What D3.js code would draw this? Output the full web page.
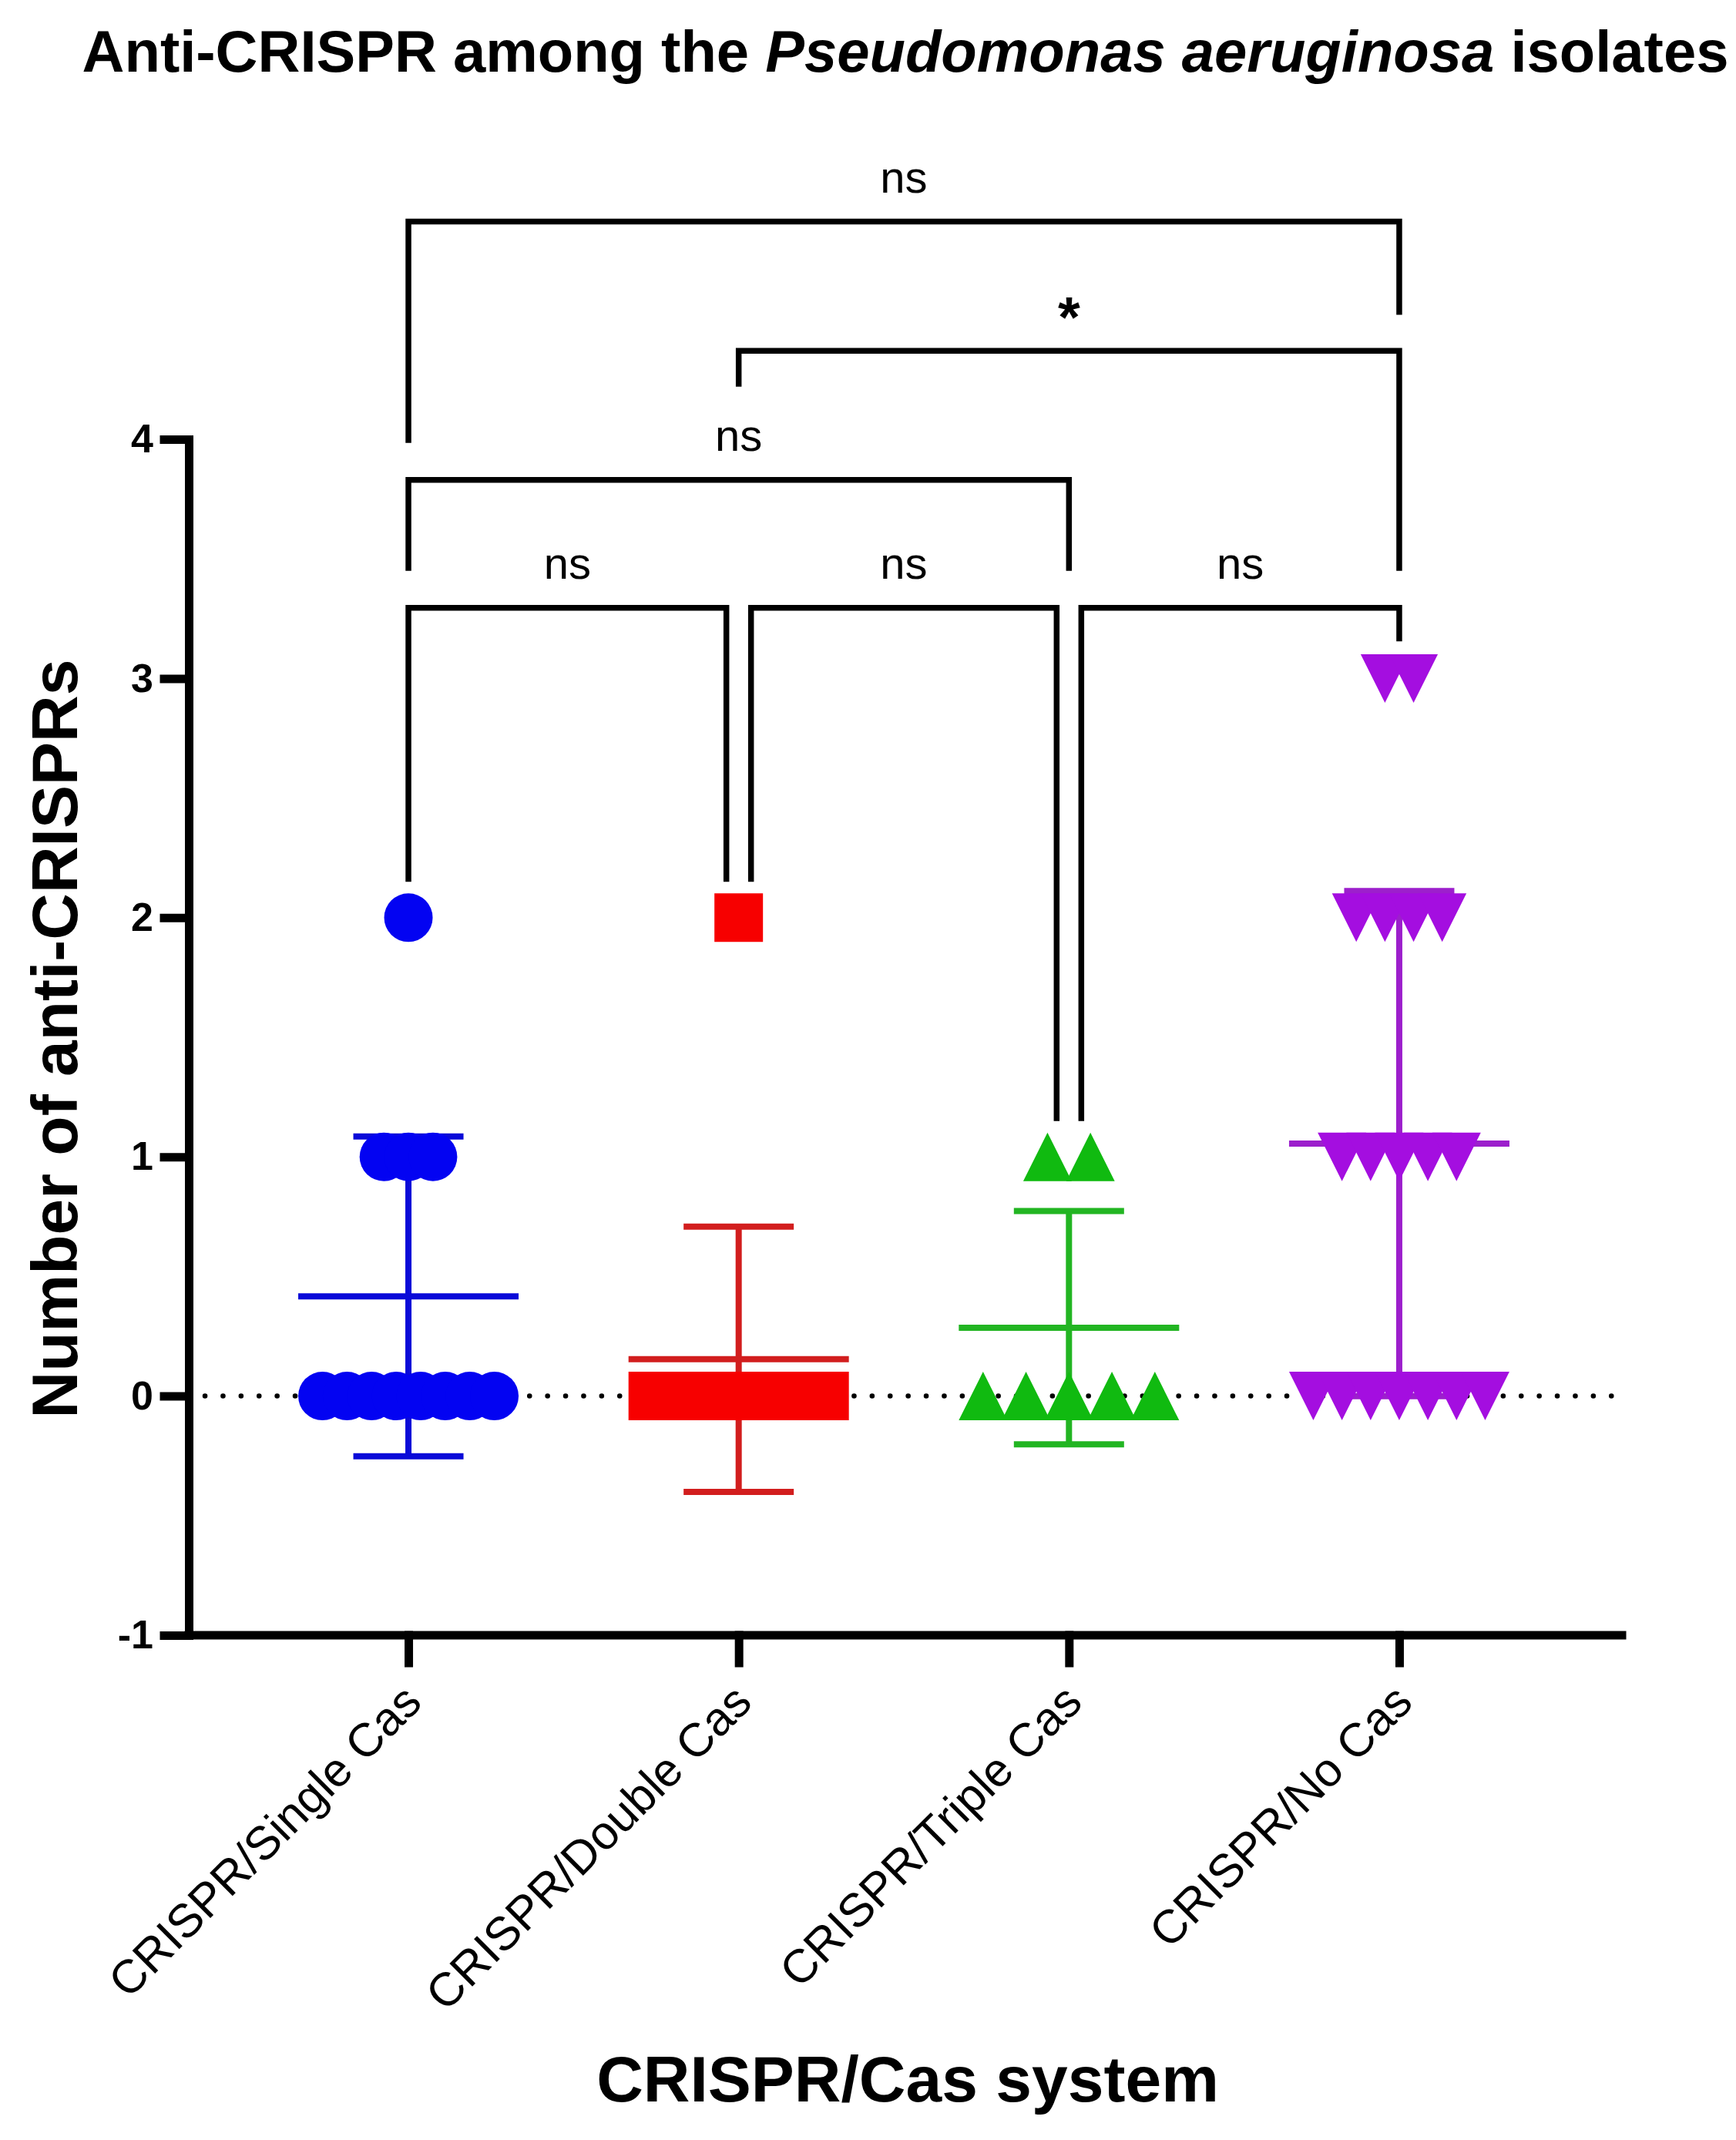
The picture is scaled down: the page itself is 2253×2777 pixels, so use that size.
<html>
  <head>
    <meta charset="utf-8">
    <script src="https://d3js.org/d3.v7.min.js"></script>
    <title>Anti-CRISPR among the Pseudomonas aeruginosa isolates</title>
    <style>
      body { margin: 0; background: #fff; }
      text { font-family: "Liberation Sans", Arial, sans-serif; }
      .axis path, .axis line { stroke: #000; stroke-width: 11; stroke-linecap: square; }
      .y.axis text { font-size: 52px; font-weight: bold; }
      .title { font-size: 76px; font-weight: bold; }
      .label { font-size: 84px; font-weight: bold; }
      .catlabel { font-size: 61px; }
      .sig { font-size: 58px; }
      .bracket { fill: none; stroke: #000; stroke-width: 7.5; }
    </style>
  </head>
  <body>
    <svg id="graph1" width="2253" height="2777"></svg>

    <script>
      // data
      const categories = ["CRISPR/Single Cas", "CRISPR/Double Cas", "CRISPR/Triple Cas", "CRISPR/No Cas"];
      const singleCas = [0, 0, 0, 0, 0, 0, 0, 0, 1, 1, 1, 2];
      const doubleCas = [0, 0, 0, 0, 0, 0, 0, 0, 0, 0, 0, 0, 2];
      const tripleCas = [0, 0, 0, 0, 0, 1, 1];
      const noCas = [0, 0, 0, 0, 0, 0, 0, 1, 1, 1, 1, 1, 2, 2, 2, 2, 3, 3];
      const yTicks = [-1, 0, 1, 2, 3, 4];

      // comparisons (group indices), bracket height and leg ends in y units
      const bracketPairs = [[0, 3], [1, 3], [0, 2], [0, 1], [1, 2], [2, 3]];
      const bracketLevels = [4.91, 4.37, 3.83, 3.295, 3.295, 3.295];
      const bracketLegEnds = [[3.985, 4.52], [4.22, 3.45], [3.45, 3.45], [2.15, 2.15], [2.15, 1.15], [1.15, 3.155]];
      const bracketLabels = ["ns", "*", "ns", "ns", "ns", "ns"];

      const groups = [singleCas, doubleCas, tripleCas, noCas];
      const symbols = ["circle", "square", "triangle", "invtriangle"];
      const pointColors = ["#0303f2", "#f70000", "#10ba10", "#a40ee0"];
      const lineColors = ["#0a0ad8", "#d21e1e", "#22b522", "#9c1fcc"];

      const svg = d3.select("svg#graph1");
      const y = d3.scaleLinear().domain([-1, 4]).range([2122, 570]);
      const x = d3.scalePoint().domain(categories).range([245, 2101]).padding(0.665);

      const markSize = 63;
      const rowWidth = 286;

      // title
      const title = svg.append("text")
        .attr("class", "title")
        .attr("x", 1175).attr("y", 93)
        .attr("text-anchor", "middle");
      title.append("tspan").text("Anti-CRISPR among the ");
      title.append("tspan").attr("font-style", "italic").text("Pseudomonas aeruginosa");
      title.append("tspan").text(" isolates");

      // dotted line at zero
      svg.append("line")
        .attr("x1", 266).attr("x2", 2092)
        .attr("y1", y(0)).attr("y2", y(0))
        .attr("stroke", "#000").attr("stroke-width", 6.5)
        .attr("stroke-linecap", "round")
        .attr("stroke-dasharray", "0.1,23.3");

      // mean +/- SD
      groups.forEach((vals, i) => {
        const cx = x(categories[i]);
        const m = d3.mean(vals), sd = d3.deviation(vals);
        const g = svg.append("g").attr("stroke", lineColors[i]).attr("stroke-width", 8);
        g.append("line").attr("x1", cx).attr("x2", cx).attr("y1", y(m + sd)).attr("y2", y(m - sd));
        g.append("line").attr("x1", cx - rowWidth / 2).attr("x2", cx + rowWidth / 2).attr("y1", y(m)).attr("y2", y(m));
        [m + sd, m - sd].forEach(v => {
          g.append("line").attr("x1", cx - rowWidth / 4).attr("x2", cx + rowWidth / 4).attr("y1", y(v)).attr("y2", y(v));
        });
      });

      // points, spread sideways when values repeat
      groups.forEach((vals, i) => {
        const cx = x(categories[i]);
        const counts = d3.rollup(vals, v => v.length, d => d);
        const maxCount = d3.max(counts.values());
        const step = maxCount > 1 ? (rowWidth - markSize) / (maxCount - 1) : 0;
        const pts = [];
        counts.forEach((n, v) => {
          for (let k = 0; k < n; k++) pts.push({ v: v, dx: (k - (n - 1) / 2) * step });
        });
        const h = markSize / 2;
        const shape = {
          circle: null,
          square: `M${-h},${-h}H${h}V${h}H${-h}Z`,
          triangle: `M0,${-h}L${h},${h}L${-h},${h}Z`,
          invtriangle: `M0,${h}L${h},${-h}L${-h},${-h}Z`
        }[symbols[i]];
        const g = svg.append("g").attr("fill", pointColors[i]);
        if (shape === null) {
          g.selectAll("circle").data(pts).join("circle")
            .attr("cx", d => cx + d.dx).attr("cy", d => y(d.v)).attr("r", h);
        } else {
          g.selectAll("path").data(pts).join("path")
            .attr("d", shape)
            .attr("transform", d => "translate(" + (cx + d.dx) + "," + y(d.v) + ")");
        }
      });

      // axes
      svg.append("g")
        .attr("class", "y axis")
        .attr("transform", "translate(245,0)")
        .call(d3.axisLeft(y).tickValues(yTicks).tickSize(32).tickSizeOuter(0).tickPadding(14).tickFormat(d => String(d)));
      svg.append("g")
        .attr("class", "x axis")
        .attr("transform", "translate(0,2122)")
        .call(d3.axisBottom(x).tickSize(36).tickSizeOuter(0).tickFormat(""));
      svg.select(".x.axis .domain").attr("d", "M245,0H2105");

      svg.selectAll(".catlabel").data(categories).join("text")
        .attr("class", "catlabel")
        .attr("text-anchor", "end")
        .attr("transform", d => "translate(" + (x(d) + 20) + ",2212) rotate(-45)")
        .text(d => d);

      svg.append("text")
        .attr("class", "label")
        .attr("text-anchor", "middle")
        .attr("transform", "translate(100,1348) rotate(-90)")
        .text("Number of anti-CRISPRs");
      svg.append("text")
        .attr("class", "label")
        .attr("text-anchor", "middle")
        .attr("x", 1178).attr("y", 2727)
        .text("CRISPR/Cas system");

      // significance brackets; brackets on the same level step aside where they meet
      const gap = 16;
      bracketPairs.forEach((p, i) => {
        let x1 = x(categories[p[0]]), x2 = x(categories[p[1]]);
        bracketPairs.forEach((q, j) => {
          if (j === i || bracketLevels[j] !== bracketLevels[i]) return;
          if (q[1] === p[0]) x1 += gap;
          if (q[0] === p[1]) x2 -= gap;
        });
        const yl = y(bracketLevels[i]);
        svg.append("path")
          .attr("class", "bracket")
          .attr("d", "M" + x1 + "," + y(bracketLegEnds[i][0]) + "V" + yl + "H" + x2 + "V" + y(bracketLegEnds[i][1]));
        const star = bracketLabels[i] === "*";
        svg.append("text")
          .attr("class", "sig")
          .attr("text-anchor", "middle")
          .attr("x", (x1 + x2) / 2)
          .attr("y", yl - (star ? 18 : 38))
          .style("font-size", star ? "74px" : null)
          .style("font-weight", star ? "bold" : null)
          .text(bracketLabels[i]);
      });
    </script>
  </body>
</html>
